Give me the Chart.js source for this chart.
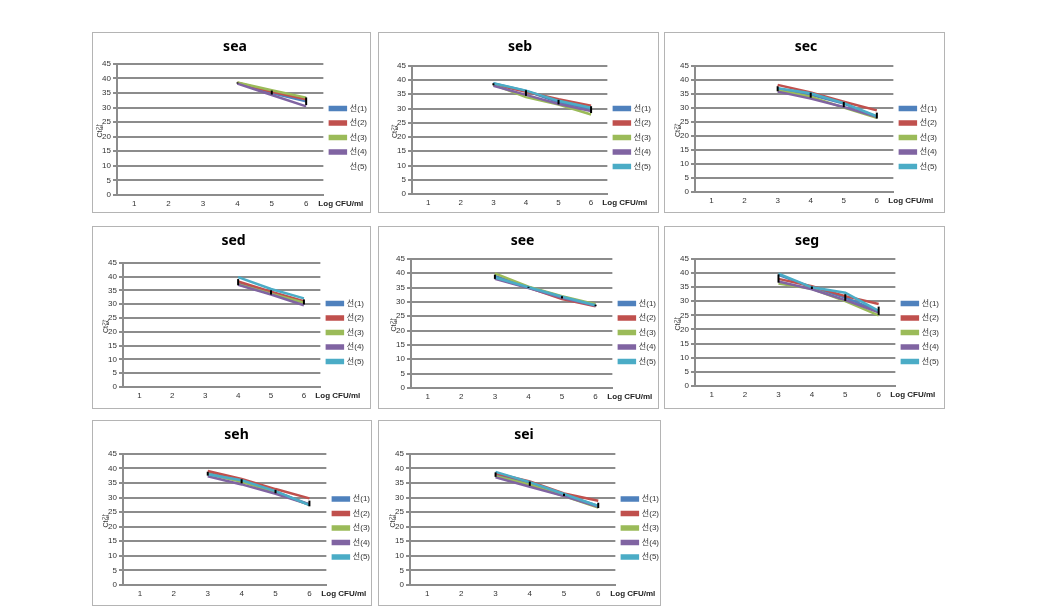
<!DOCTYPE html>
<html><head><meta charset="utf-8">
<script src="https://cdn.jsdelivr.net/npm/chart.js@4.4.1/dist/chart.umd.min.js"></script>
<style>
body{margin:0;background:#fff;width:1048px;height:612px;position:relative;overflow:hidden;}
.p{position:absolute;border:1px solid #b4b4b4;background:#fff;}
.p canvas{display:block;}
</style></head><body>
<script>
// ---- data ----
const xLabels = ['1','2','3','4','5','6'];
const seriesNames = ['선(1)','선(2)','선(3)','선(4)','선(5)'];
const yTicks = [0,5,10,15,20,25,30,35,40,45];
const yTitle = 'Ct값';
const xTitle = 'Log CFU/ml';
const panelTitles = ['sea','seb','sec','sed','see','seg','seh','sei'];

const sea = [
  [null,null,null,38.4,35.0,32.1],
  [null,null,null,38.5,35.4,32.8],
  [null,null,null,38.6,35.9,33.4],
  [null,null,null,38.2,34.3,30.4],
  [null,null,null,null,null,null]
];
const seb = [
  [null,null,38.8,36.2,32.2,29.8],
  [null,null,38.5,35.9,33.3,31.0],
  [null,null,38.4,34.0,31.4,27.9],
  [null,null,38.0,34.8,31.6,29.1],
  [null,null,38.9,36.3,32.7,30.3]
];
const sec = [
  [null,null,36.8,34.7,31.5,26.8],
  [null,null,38.2,35.5,32.2,29.1],
  [null,null,36.3,34.0,30.1,26.5],
  [null,null,35.8,33.3,30.3,26.8],
  [null,null,37.0,35.2,31.7,27.0]
];
const sed = [
  [null,null,null,37.7,34.0,30.8],
  [null,null,null,38.2,34.5,31.1],
  [null,null,null,37.2,33.8,30.5],
  [null,null,null,37.0,33.5,29.6],
  [null,null,null,39.8,35.5,32.1]
];
const see = [
  [null,null,39.0,35.1,31.7,28.7],
  [null,null,38.3,35.0,31.0,28.5],
  [null,null,39.9,35.3,32.0,29.2],
  [null,null,38.0,34.8,31.4,28.6],
  [null,null,38.5,35.1,31.8,28.8]
];
const seg = [
  [null,null,39.3,34.9,31.3,26.4],
  [null,null,37.9,35.3,31.8,29.0],
  [null,null,36.3,34.4,30.0,25.0],
  [null,null,37.0,34.2,30.4,26.1],
  [null,null,39.7,34.9,33.0,26.6]
];
const seh = [
  [null,null,38.4,35.7,32.0,27.6],
  [null,null,39.1,36.4,32.9,29.7],
  [null,null,38.1,35.4,31.8,27.5],
  [null,null,37.3,34.5,31.3,27.6],
  [null,null,38.0,35.9,32.2,27.4]
];
const sei = [
  [null,null,38.0,34.8,30.9,27.1],
  [null,null,38.3,35.5,31.4,28.9],
  [null,null,37.3,34.4,30.5,26.6],
  [null,null,36.9,33.7,30.5,26.8],
  [null,null,38.8,35.3,31.2,27.1]
];
const panelData = [sea, seb, sec, sed, see, seg, seh, sei];

// ---- styles / layout ----
const colors = ['#4F81BD','#C0504D','#9BBB59','#8064A2','#4BACC6'];
const panelBoxes = [
  [92,32,279,181],[378,32,281,181],[664,32,281,181],
  [92,226,279,183],[378,226,281,183],[664,226,281,183],
  [92,420,280,186],[378,420,283,186]
];
const yAxisWidth   = [24,33,30,30,32,30,30,31];
const xAxisHeight  = [17,18,20,21,20,22,20,20];
const titlePadBot  = [8,10,10,13,9,9,10,10];
const padRight     = [-7,-3,-3,-4,-8,-5,-9,-9];
const hiddenSeries = [[4],[],[],[],[],[],[],[]];
const FONT = "'Liberation Sans', 'Noto Sans CJK KR', sans-serif";

const extras = {
  id: 'extras',
  afterDatasetsDraw(chart) {
    const {ctx, scales:{x, y}} = chart;
    ctx.save();
    ctx.strokeStyle = '#000';
    ctx.lineWidth = 2;
    xLabels.forEach((l, i) => {
      const vals = chart.data.datasets.map(d => d.data[i]).filter(v => v != null);
      if (vals.length < 2) return;
      const m = vals.reduce((a,b)=>a+b,0)/vals.length;
      const sd = Math.sqrt(vals.reduce((a,b)=>a+(b-m)*(b-m),0)/(vals.length-1));
      const px = x.getPixelForValue(i);
      ctx.beginPath();
      ctx.moveTo(px, y.getPixelForValue(m - sd));
      ctx.lineTo(px, y.getPixelForValue(m + sd));
      ctx.stroke();
    });
    ctx.restore();
  },
  afterDraw(chart) {
    const {ctx, chartArea, scales:{y}} = chart;
    ctx.save();
    ctx.fillStyle = '#222';
    ctx.font = "bold 8px " + FONT;
    ctx.textAlign = 'left';
    ctx.textBaseline = 'middle';
    ctx.fillText(xTitle, chartArea.right - 5, chartArea.bottom + 9);
    ctx.translate(chartArea.left - 17, y.getPixelForValue(22));
    ctx.rotate(-Math.PI/2);
    ctx.font = "7px " + FONT;
    ctx.fillStyle = '#333';
    ctx.textAlign = 'center';
    ctx.fillText(yTitle, 0, 0);
    ctx.restore();
  }
};

panelData.forEach((rows, p) => {
  const [bx, by, bw, bh] = panelBoxes[p];
  const div = document.createElement('div');
  div.className = 'p';
  div.style.left = bx + 'px'; div.style.top = by + 'px';
  div.style.width = (bw - 2) + 'px'; div.style.height = (bh - 2) + 'px';
  const cv = document.createElement('canvas');
  cv.width = bw - 2; cv.height = bh - 2;
  div.appendChild(cv);
  document.body.appendChild(div);

  new Chart(cv, {
    type: 'line',
    data: {
      labels: xLabels,
      datasets: rows.map((r, i) => ({
        label: seriesNames[i],
        data: r,
        borderColor: hiddenSeries[p].includes(i) ? 'rgba(255,255,255,0)' : colors[i],
        backgroundColor: hiddenSeries[p].includes(i) ? 'rgba(255,255,255,0)' : colors[i],
        borderWidth: 2.5,
        pointRadius: 0,
        tension: 0,
        order: 4 - i
      }))
    },
    options: {
      responsive: false,
      animation: false,
      layout: { padding: { left: 0, right: padRight[p], top: 0, bottom: 0 } },
      plugins: {
        title: {
          display: true, text: panelTitles[p], color: '#000',
          font: { family: "'Noto Sans', sans-serif", size: 14, weight: 'bold' },
          padding: { top: 6, bottom: titlePadBot[p] }
        },
        legend: {
          position: 'right',
          title: { display: true, text: '', font: { size: 1 }, padding: { top: 14, bottom: 15 } },
          labels: {
            boxWidth: 16, boxHeight: 3, padding: 6.5, color: '#333',
            font: { family: FONT, size: 8 },
            sort: (a, b) => a.datasetIndex - b.datasetIndex
          }
        },
        tooltip: { enabled: false }
      },
      scales: {
        x: {
          type: 'category', offset: true,
          grid: { display: false, drawTicks: false },
          border: { display: true, color: '#8c8c8c', width: 2 },
          ticks: { color: '#333', font: { family: FONT, size: 8 }, padding: 4, maxRotation: 0 },
          afterFit: s => { s.height = xAxisHeight[p]; }
        },
        y: {
          min: 0, max: 45,
          afterBuildTicks: s => { s.ticks = yTicks.map(v => ({ value: v })); },
          grid: { color: '#8c8c8c', lineWidth: 2, tickLength: 4, drawTicks: true },
          border: { display: true, color: '#8c8c8c', width: 2 },
          ticks: { color: '#333', font: { family: FONT, size: 8 }, padding: 2 },
          afterFit: s => { s.width = yAxisWidth[p]; }
        }
      }
    },
    plugins: [extras]
  });
});
</script>
</body></html>
